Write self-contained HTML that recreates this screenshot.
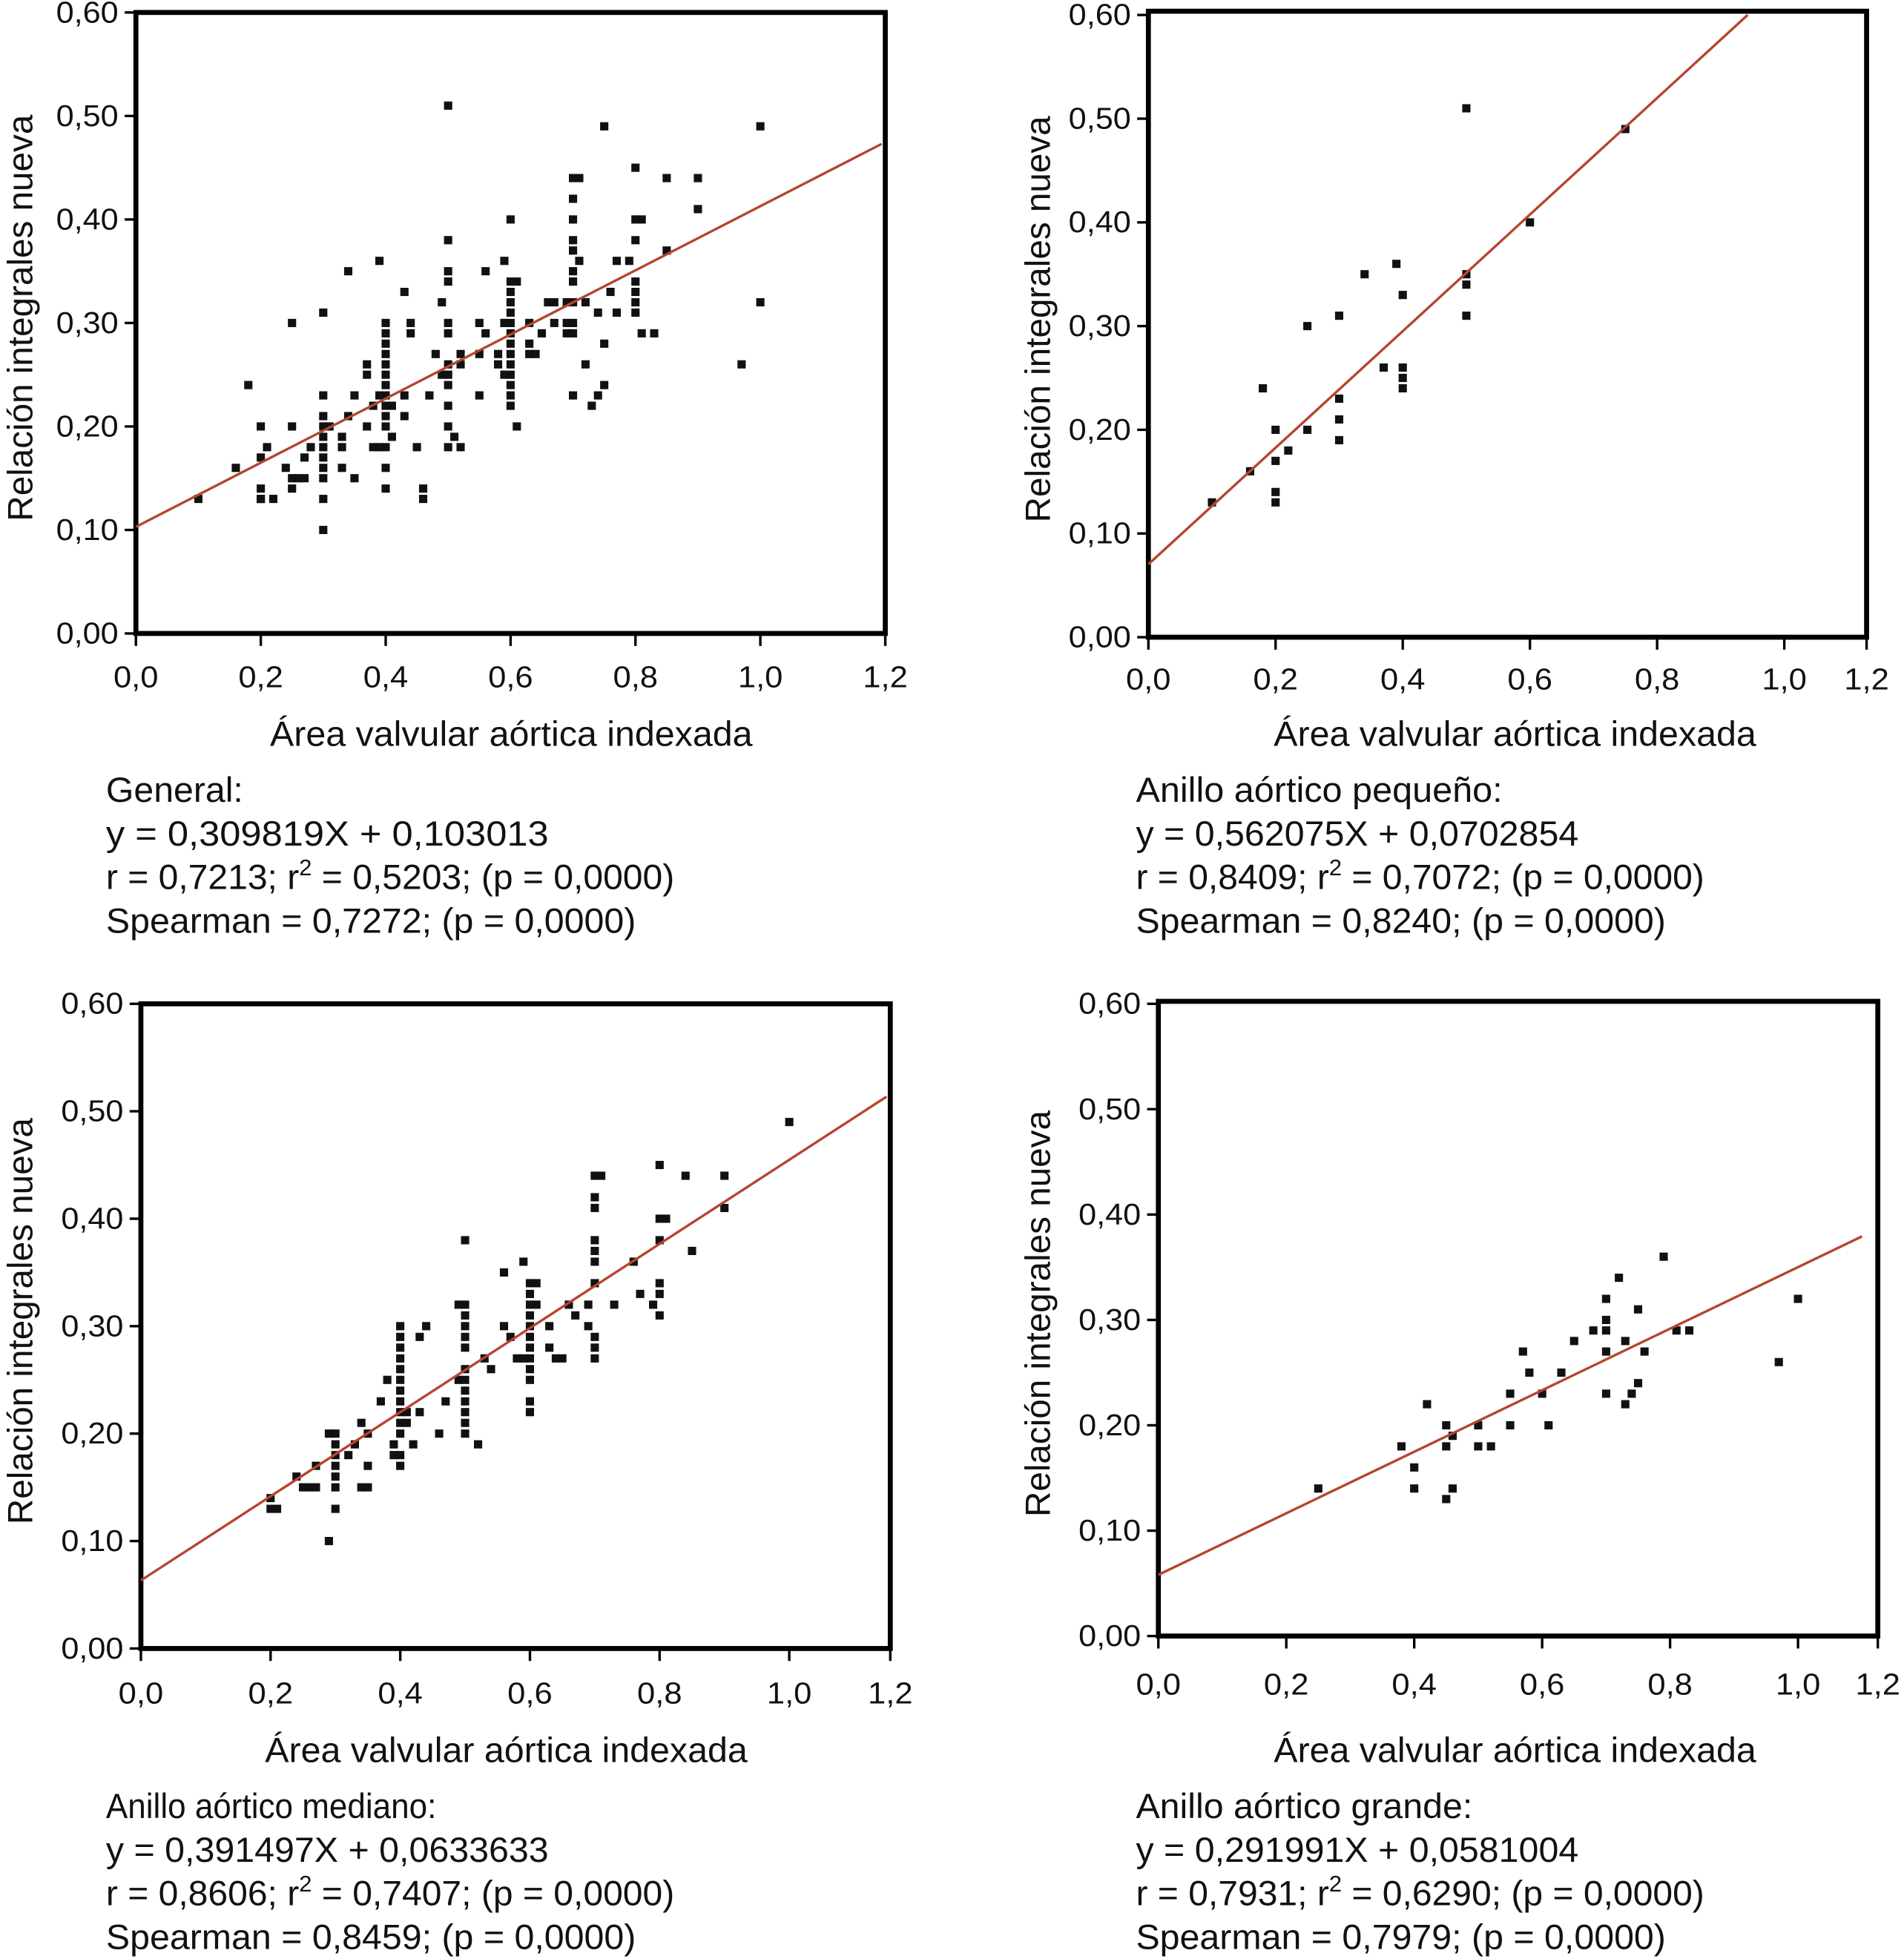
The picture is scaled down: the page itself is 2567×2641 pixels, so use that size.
<!DOCTYPE html>
<html><head><meta charset="utf-8"><style>
html,body{margin:0;padding:0;background:#fff;}
svg{display:block;}
text{font-family:"Liberation Sans",Arial,sans-serif;fill:#111;}
</style></head><body>
<svg id="fig" width="2567" height="2641" viewBox="0 0 1527 1571" preserveAspectRatio="none" xmlns="http://www.w3.org/2000/svg"></svg>
<script>
// ---- data ----
const p1X = [0.1,0.16,0.18,0.2,0.2,0.2,0.2,0.2,0.21,0.22,0.24,0.25,0.25,0.25,0.25,0.26,0.27,0.27,0.28,0.3,0.3,0.3,0.3,0.3,0.3,0.3,0.3,0.3,0.3,0.3,0.31,0.33,0.33,0.33,0.34,0.34,0.35,0.35,0.37,0.37,0.37,0.38,0.38,0.39,0.39,0.39,0.4,0.4,0.4,0.4,0.4,0.4,0.4,0.4,0.4,0.4,0.4,0.4,0.4,0.4,0.41,0.41,0.43,0.43,0.43,0.44,0.44,0.45,0.46,0.46,0.47,0.48,0.49,0.49,0.5,0.5,0.5,0.5,0.5,0.5,0.5,0.5,0.5,0.5,0.5,0.5,0.51,0.52,0.52,0.52,0.55,0.55,0.55,0.56,0.56,0.58,0.58,0.59,0.59,0.59,0.6,0.6,0.6,0.6,0.6,0.6,0.6,0.6,0.6,0.6,0.6,0.6,0.6,0.6,0.61,0.61,0.63,0.63,0.63,0.64,0.65,0.66,0.67,0.67,0.69,0.69,0.69,0.7,0.7,0.7,0.7,0.7,0.7,0.7,0.7,0.7,0.7,0.7,0.71,0.71,0.72,0.72,0.73,0.74,0.74,0.75,0.75,0.75,0.76,0.77,0.77,0.79,0.8,0.8,0.8,0.8,0.8,0.8,0.8,0.81,0.81,0.83,0.85,0.85,0.9,0.9,0.97,1.0,1.0];
const p1Y = [0.13,0.16,0.24,0.2,0.17,0.14,0.13,0.13,0.18,0.13,0.16,0.3,0.2,0.15,0.14,0.15,0.15,0.17,0.18,0.31,0.23,0.21,0.2,0.19,0.18,0.17,0.16,0.15,0.13,0.1,0.2,0.19,0.18,0.16,0.35,0.21,0.23,0.15,0.26,0.2,0.25,0.18,0.22,0.36,0.23,0.18,0.3,0.29,0.28,0.27,0.26,0.25,0.24,0.23,0.22,0.21,0.2,0.18,0.16,0.14,0.19,0.22,0.33,0.23,0.21,0.29,0.3,0.18,0.13,0.14,0.23,0.27,0.32,0.25,0.51,0.38,0.35,0.34,0.3,0.29,0.26,0.25,0.24,0.22,0.2,0.18,0.19,0.18,0.26,0.27,0.27,0.23,0.3,0.35,0.29,0.27,0.26,0.36,0.3,0.25,0.4,0.34,0.33,0.32,0.31,0.3,0.29,0.28,0.27,0.26,0.25,0.24,0.23,0.22,0.2,0.34,0.3,0.28,0.27,0.27,0.29,0.32,0.32,0.3,0.32,0.3,0.29,0.44,0.42,0.4,0.38,0.37,0.35,0.34,0.32,0.3,0.29,0.23,0.44,0.36,0.32,0.26,0.22,0.31,0.23,0.49,0.28,0.24,0.33,0.36,0.31,0.36,0.45,0.4,0.38,0.34,0.33,0.32,0.31,0.4,0.29,0.29,0.44,0.37,0.44,0.41,0.26,0.49,0.32];
const p2X = [0.1,0.16,0.18,0.2,0.2,0.2,0.2,0.22,0.25,0.25,0.3,0.3,0.3,0.3,0.34,0.37,0.39,0.4,0.4,0.4,0.4,0.5,0.5,0.5,0.5,0.6,0.75];
const p2Y = [0.13,0.16,0.24,0.2,0.17,0.14,0.13,0.18,0.3,0.2,0.31,0.23,0.21,0.19,0.35,0.26,0.36,0.33,0.26,0.25,0.24,0.51,0.35,0.34,0.31,0.4,0.49];
const p3X = [0.2,0.2,0.21,0.24,0.25,0.26,0.27,0.27,0.29,0.29,0.3,0.3,0.3,0.3,0.3,0.3,0.3,0.32,0.33,0.34,0.34,0.35,0.35,0.35,0.37,0.38,0.39,0.39,0.4,0.4,0.4,0.4,0.4,0.4,0.4,0.4,0.4,0.4,0.4,0.4,0.4,0.41,0.41,0.42,0.43,0.43,0.44,0.46,0.47,0.49,0.49,0.5,0.5,0.5,0.5,0.5,0.5,0.5,0.5,0.5,0.5,0.5,0.5,0.5,0.52,0.53,0.54,0.56,0.56,0.57,0.58,0.59,0.59,0.6,0.6,0.6,0.6,0.6,0.6,0.6,0.6,0.6,0.6,0.6,0.6,0.61,0.61,0.63,0.63,0.64,0.65,0.66,0.67,0.69,0.69,0.7,0.7,0.7,0.7,0.7,0.7,0.7,0.7,0.7,0.7,0.71,0.73,0.76,0.77,0.79,0.8,0.8,0.8,0.8,0.8,0.8,0.81,0.84,0.85,0.9,0.9,1.0];
const p3Y = [0.14,0.13,0.13,0.16,0.15,0.15,0.17,0.15,0.1,0.2,0.2,0.19,0.18,0.17,0.16,0.15,0.13,0.18,0.19,0.21,0.15,0.17,0.15,0.2,0.23,0.25,0.19,0.18,0.3,0.29,0.28,0.27,0.26,0.25,0.24,0.23,0.22,0.21,0.2,0.18,0.17,0.22,0.21,0.19,0.22,0.29,0.3,0.2,0.23,0.32,0.25,0.38,0.32,0.31,0.3,0.29,0.28,0.26,0.25,0.24,0.23,0.22,0.21,0.2,0.19,0.27,0.26,0.35,0.3,0.29,0.27,0.36,0.27,0.34,0.33,0.32,0.31,0.3,0.29,0.28,0.27,0.26,0.25,0.23,0.22,0.34,0.32,0.3,0.28,0.27,0.27,0.32,0.31,0.32,0.3,0.44,0.42,0.41,0.38,0.37,0.36,0.34,0.29,0.28,0.27,0.44,0.32,0.36,0.33,0.32,0.45,0.4,0.38,0.34,0.33,0.31,0.4,0.44,0.37,0.44,0.41,0.49];
const p4X = [0.25,0.38,0.4,0.4,0.42,0.45,0.45,0.46,0.45,0.46,0.5,0.5,0.52,0.55,0.55,0.57,0.58,0.6,0.61,0.63,0.65,0.68,0.7,0.7,0.7,0.7,0.7,0.72,0.73,0.73,0.74,0.75,0.75,0.76,0.79,0.81,0.83,0.97,1.0];
const p4Y = [0.14,0.18,0.16,0.14,0.22,0.2,0.18,0.19,0.13,0.14,0.2,0.18,0.18,0.23,0.2,0.27,0.25,0.23,0.2,0.25,0.28,0.29,0.32,0.3,0.29,0.27,0.23,0.34,0.28,0.22,0.23,0.31,0.24,0.27,0.36,0.29,0.29,0.26,0.32];
const slopes = [0.309819,0.562075,0.391497,0.291991];
const intercepts = [0.103013,0.0702854,0.0633633,0.0581004];
const lineEnds = [1.2,1.2,1.2,1.1];
const xTicks = [0,0.2,0.4,0.6,0.8,1.0];
const xTickLabels = ["0,0","0,2","0,4","0,6","0,8","1,0"];
const yTicks = [0,0.1,0.2,0.3,0.4,0.5,0.6];
const yTickLabels = ["0,00","0,10","0,20","0,30","0,40","0,50","0,60"];
const titles = ["General:","Anillo aórtico pequeño:","Anillo aórtico mediano:","Anillo aórtico grande:"];
const eqs = ["y = 0,309819X + 0,103013","y = 0,562075X + 0,0702854","y = 0,391497X + 0,0633633","y = 0,291991X + 0,0581004"];
const rs = [["0,7213","0,5203"],["0,8409","0,7072"],["0,8606","0,7407"],["0,7931","0,6290"]];
const sps = ["0,7272","0,8240","0,8459","0,7979"];

// ---- layout (pixels, display space) ----
const panels = [
 {X:p1X,Y:p1Y,L:109,R:710,T:10,B:508,x1:609.8,y6:10,tx:85,ty:643,titW:110,yTitX:16,xtOff:90,xlOff:43,xtCx:410},
 {X:p2X,Y:p2Y,L:921,R:1497,T:9,B:511,x1:1431,y6:12,tx:911,ty:643,titW:294,yTitX:832,xtOff:87,xlOff:42,xtCx:1215},
 {X:p3X,Y:p3Y,L:113,R:714,T:805,B:1322,x1:633,y6:805,tx:85,ty:1458,titW:265,yTitX:16,xtOff:91,xlOff:44,xtCx:406},
 {X:p4X,Y:p4Y,L:929,R:1506,T:803,B:1312,x1:1442,y6:805,tx:911,ty:1458,titW:270,yTitX:832,xtOff:101,xlOff:47,xtCx:1215}
];
const NS="http://www.w3.org/2000/svg";
const svg=document.getElementById('fig');
function mk(tag,attrs,parent){const e=document.createElementNS(NS,tag);for(const k in attrs)e.setAttribute(k,attrs[k]);(parent||svg).appendChild(e);return e;}

panels.forEach((p,i)=>{
  const g=mk('g',{});
  
  
  const sx=v=>p.L+v*(p.x1-p.L);
  const sy=v=>p.B-v*(p.B-p.y6)/0.6;
  const inv=px=>(px-p.L)/(p.x1-p.L);
  const fr=mk('rect',{x:p.L,y:p.T,width:p.R-p.L,height:p.B-p.T,fill:'none',stroke:'#000','stroke-width':4},g);
  
  
  yTicks.forEach((v,j)=>{
    mk('line',{x1:p.L-9,x2:p.L,y1:sy(v),y2:sy(v),stroke:'#000','stroke-width':2},g);
    const t=mk('text',{x:p.L-14,y:sy(v)+8,'font-size':24,'text-anchor':'end',textLength:50,lengthAdjust:'spacingAndGlyphs'},g);
    t.textContent=yTickLabels[j];
    
    
  });
  xTicks.forEach((v,j)=>{
    mk('line',{x1:sx(v),x2:sx(v),y1:p.B,y2:p.B+10,stroke:'#000','stroke-width':2},g);
    const t=mk('text',{x:sx(v),y:p.B+p.xlOff,'font-size':24,'text-anchor':'middle',textLength:36,lengthAdjust:'spacingAndGlyphs'},g);
    t.textContent=xTickLabels[j];
    
    
  });
  mk('line',{x1:p.R,x2:p.R,y1:p.B,y2:p.B+10,stroke:'#000','stroke-width':2},g);
  const t12=mk('text',{x:p.R,y:p.B+p.xlOff,'font-size':24,'text-anchor':'middle',textLength:36,lengthAdjust:'spacingAndGlyphs'},g);
  t12.textContent="1,2";
  
  
  p.X.forEach((xv,k)=>{
    const r=mk('rect',{x:sx(xv)-3.3,y:sy(p.Y[k])-3.3,width:6.6,height:6.6,fill:'#111'},g);
    
    
  });
  let xe=Math.min(lineEnds[i],inv(p.R-3));
  if(intercepts[i]+slopes[i]*xe>0.6) xe=(0.6-intercepts[i])/slopes[i];
  const ln=mk('line',{x1:sx(0),y1:sy(intercepts[i]),x2:sx(xe),y2:sy(intercepts[i]+slopes[i]*xe),stroke:'#b5452e','stroke-width':2},g);
  
  
  const xt=mk('text',{x:p.xtCx,y:p.B+p.xtOff,'font-size':28,'text-anchor':'middle',textLength:387,lengthAdjust:'spacingAndGlyphs'},g);
  xt.textContent="Área valvular aórtica indexada";
  
  
  const cy=(p.T+p.B)/2-4;
  const yt=mk('text',{x:0,y:0,'font-size':28,'text-anchor':'middle',textLength:326,lengthAdjust:'spacingAndGlyphs',transform:`translate(${p.yTitX+10},${cy}) rotate(-90)`},g);
  yt.textContent="Relación integrales nueva";
  
  
  const s1=mk('text',{x:p.tx,y:p.ty,'font-size':28,textLength:p.titW,lengthAdjust:'spacingAndGlyphs'},g);
  s1.textContent=titles[i];
  
  
  const s2=mk('text',{x:p.tx,y:p.ty+35,'font-size':28,textLength:355,lengthAdjust:'spacingAndGlyphs'},g);
  s2.textContent=eqs[i];
  
  
  const s3=mk('text',{x:p.tx,y:p.ty+70,'font-size':28},g);
  
  
  const a=mk('tspan',{},s3); a.textContent="r = "+rs[i][0]+"; r";
  const b=mk('tspan',{dy:-11,'font-size':18},s3); b.textContent="2";
  const c=mk('tspan',{dy:11},s3); c.textContent=" = "+rs[i][1]+"; (p = 0,0000)";
  const s4=mk('text',{x:p.tx,y:p.ty+105,'font-size':28,textLength:425,lengthAdjust:'spacingAndGlyphs'},g);
  s4.textContent="Spearman = "+sps[i]+"; (p = 0,0000)";
  
  
  const w=s3.getComputedTextLength();
  const target=456;
  if(w>0){s3.setAttribute('transform',`translate(${p.tx},0) scale(${target/w},1) translate(${-p.tx},0)`);}
});
</script>
</body></html>
